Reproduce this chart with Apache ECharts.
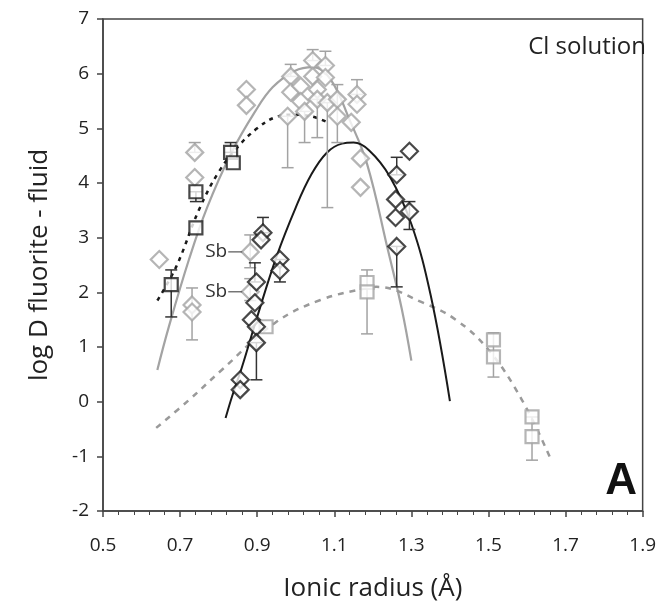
<!DOCTYPE html>
<html><head><meta charset="utf-8">
<script src="https://cdn.jsdelivr.net/npm/echarts@6/dist/echarts.min.js"></script>
<style>html,body{margin:0;padding:0;background:#fff}#c{width:659px;height:607px}</style>
</head><body><div id="c"></div>
<script>
// ---- data ----
const xTicks = [0.5, 0.7, 0.9, 1.1, 1.3, 1.5, 1.7, 1.9];
const yTicks = [-2, -1, 0, 1, 2, 3, 4, 5, 6, 7];

const grayDiamonds = [[0.646,2.60],[0.738,4.56],[0.738,4.10],[0.731,1.77],[0.731,1.64],[0.872,5.71],[0.872,5.42],
  [0.882,2.74],[0.882,2.01],[0.979,5.22],[0.987,5.95],[0.987,5.66],[1.013,5.77],[1.013,5.49],[1.023,5.31],
  [1.044,6.24],[1.044,5.95],[1.056,5.71],[1.056,5.53],[1.077,6.15],[1.077,5.93],[1.082,5.47],[1.108,5.53],
  [1.108,5.22],[1.144,5.11],[1.159,5.62],[1.159,5.44],[1.168,4.45],[1.168,3.92]];
const grayDiamondErr = [[0.738,4.56,4.74],[0.731,1.13,2.08],[0.882,2.45,3.05],[0.882,1.85,2.25],[0.979,4.28,5.22],
  [0.987,5.95,6.17],[1.023,4.74,5.31],[1.044,6.24,6.44],[1.056,4.83,5.53],[1.077,6.15,6.41],[1.082,3.55,5.47],
  [1.108,4.74,5.80],[1.159,5.62,5.89]];

const blackDiamonds = [[0.856,0.40],[0.856,0.22],[0.894,1.81],[0.885,1.50],[0.898,1.37],[0.898,1.08],[0.898,2.19],
  [0.915,3.09],[0.910,2.96],[0.959,2.60],[0.959,2.40],[1.295,4.58],[1.262,4.15],[1.259,3.70],[1.259,3.37],
  [1.295,3.48],[1.262,2.84]];
const blackDiamondErr = [[0.915,3.09,3.37],[0.959,2.19,2.60],[0.898,0.40,1.08],[0.894,2.19,2.54],[1.262,4.15,4.47],
  [1.295,3.15,3.66],[1.262,2.10,2.84]];

const blackSquares = [[0.677,2.14],[0.741,3.84],[0.741,3.18],[0.831,4.56],[0.838,4.37]];
const blackSquareErr = [[0.677,1.55,2.41],[0.741,3.66,3.84],[0.831,4.56,4.74]];

const graySquares = [[0.923,1.37],[1.185,2.18],[1.185,2.01],[1.513,1.13],[1.513,0.82],[1.613,-0.28],[1.613,-0.64]];
const graySquareErr = [[1.185,1.24,2.41],[1.513,0.45,1.26],[1.613,-1.07,-0.28]];

const grayFit = [[0.641,0.58],[0.670,1.35],[0.723,2.60],[0.770,3.55],[0.833,4.55],[0.894,5.30],[0.94,5.75],
  [0.997,6.05],[1.045,6.12],[1.09,5.90],[1.14,5.15],[1.185,4.35],[1.24,2.75],[1.275,1.70],[1.30,0.75]];
const blackFit = [[0.818,-0.30],[0.835,0.10],[0.86,0.62],[0.90,1.55],[0.95,2.65],[1.0,3.55],[1.04,4.15],
  [1.08,4.55],[1.12,4.72],[1.15,4.74],[1.19,4.60],[1.244,4.12],[1.30,3.25],[1.35,1.95],[1.40,0.01]];
const blackDottedFit = [[0.641,1.85],[0.69,2.47],[0.749,3.51],[0.80,4.20],[0.851,4.67],[0.90,5.00],[0.946,5.20],
  [0.99,5.25],[1.04,5.22],[1.08,5.12]];
const grayDashedFit = [[0.638,-0.48],[0.723,0.03],[0.808,0.58],[0.946,1.44],[1.064,1.86],[1.185,2.08],[1.21,2.10],
  [1.33,1.81],[1.415,1.50],[1.50,0.95],[1.587,0.03],[1.659,-1.01]];

const sbLabels = [[0.882,2.74,'Sb'],[0.882,2.01,'Sb']];

// ---- chart ----
const GRAY = '#a3a3a3', BLACK = '#1a1a1a', FONT = 'Open Sans';
function errSeries(data, color) {
  return {
    type: 'custom', data: data, z: 2, silent: true,
    renderItem: function (params, api) {
      const x = api.value(0), lo = api.value(1), hi = api.value(2);
      const a = api.coord([x, lo]), b = api.coord([x, hi]);
      const w = 6, st = { stroke: color, lineWidth: 1.5 };
      return { type: 'group', children: [
        { type: 'line', shape: { x1: a[0], y1: a[1], x2: b[0], y2: b[1] }, style: st },
        { type: 'line', shape: { x1: a[0] - w, y1: a[1], x2: a[0] + w, y2: a[1] }, style: st },
        { type: 'line', shape: { x1: b[0] - w, y1: b[1], x2: b[0] + w, y2: b[1] }, style: st }
      ] };
    }
  };
}
function scatter(data, symbol, size, color) {
  return { type: 'scatter', data: data, symbol: symbol, symbolSize: size, z: 3,
    itemStyle: { color: '#fff', borderColor: color, borderWidth: 2.2 } };
}
function line(data, color, type, width) {
  return { type: 'line', data: data, smooth: 0.4, showSymbol: false, symbol: 'none', z: 1,
    lineStyle: { color: color, type: type, width: width } };
}
const chart = echarts.init(document.getElementById('c'), null, { renderer: 'canvas' });
chart.setOption({
  animation: false,
  backgroundColor: '#fff',
  grid: { left: 103, right: 10, top: 19, bottom: 96, show: true, borderColor: '#444', borderWidth: 1.5 },
  xAxis: {
    type: 'value', min: xTicks[0], max: xTicks[xTicks.length - 1], interval: 0.2,
    name: 'Ionic radius (Å)', nameLocation: 'middle', nameGap: 65,
    nameTextStyle: { fontFamily: FONT, fontSize: 26, color: '#222' },
    axisLine: { onZero: false, lineStyle: { color: '#444', width: 1.5 } },
    axisTick: { show: true, length: 6, lineStyle: { color: '#444', width: 1.5 } },
    minorTick: { show: true, splitNumber: 5, length: 4, lineStyle: { color: '#444', width: 1 } },
    splitLine: { show: false },
    axisLabel: { margin: 25, fontFamily: FONT, fontSize: 19, color: '#222',
      formatter: v => v.toFixed(1) }
  },
  yAxis: {
    type: 'value', min: yTicks[0], max: yTicks[yTicks.length - 1], interval: 1,
    name: 'log D fluorite - fluid', nameLocation: 'middle', nameGap: 50,
    nameTextStyle: { fontFamily: FONT, fontSize: 26, color: '#222' },
    axisLine: { onZero: false, lineStyle: { color: '#444', width: 1.5 } },
    axisTick: { show: true, length: 6, lineStyle: { color: '#444', width: 1.5 } },
    splitLine: { show: false },
    axisLabel: { margin: 14, fontFamily: FONT, fontSize: 19, color: '#222' }
  },
  graphic: [
    { type: 'text', right: 13, top: 35, style: { text: 'Cl solution', fontFamily: FONT, fontSize: 24, fill: '#222' } },
    { type: 'text', right: 22, top: 460, style: { text: 'A', fontFamily: 'Liberation Sans', fontWeight: 'bold', fontSize: 44, fill: '#111' } }
  ],
  series: [
    line(grayFit, GRAY, 'solid', 2.2),
    line(grayDashedFit, '#9a9a9a', [6, 6], 2.5),
    line(blackDottedFit, BLACK, [4, 5], 2.5),
    line(blackFit, BLACK, 'solid', 2),
    errSeries(grayDiamondErr, GRAY),
    errSeries(graySquareErr, GRAY),
    scatter(graySquares, 'rect', 13, GRAY),
    scatter(grayDiamonds, 'diamond', 17, GRAY),
    errSeries(blackDiamondErr, '#333'),
    errSeries(blackSquareErr, '#333'),
    scatter(blackSquares, 'rect', 13, BLACK),
    scatter(blackDiamonds, 'diamond', 17, BLACK),
    {
      type: 'custom', data: sbLabels, z: 4, silent: true,
      renderItem: function (params, api) {
        const p = api.coord([api.value(0), api.value(1)]);
        return { type: 'group', children: [
          { type: 'line', shape: { x1: p[0] - 22, y1: p[1], x2: p[0] - 8, y2: p[1] }, style: { stroke: '#555', lineWidth: 1.2 } },
          { type: 'text', style: { text: api.value(2), x: p[0] - 23, y: p[1], align: 'right', verticalAlign: 'middle',
            fontFamily: FONT, fontSize: 19, fill: '#333' } }
        ] };
      }
    }
  ]
});
</script></body></html>
